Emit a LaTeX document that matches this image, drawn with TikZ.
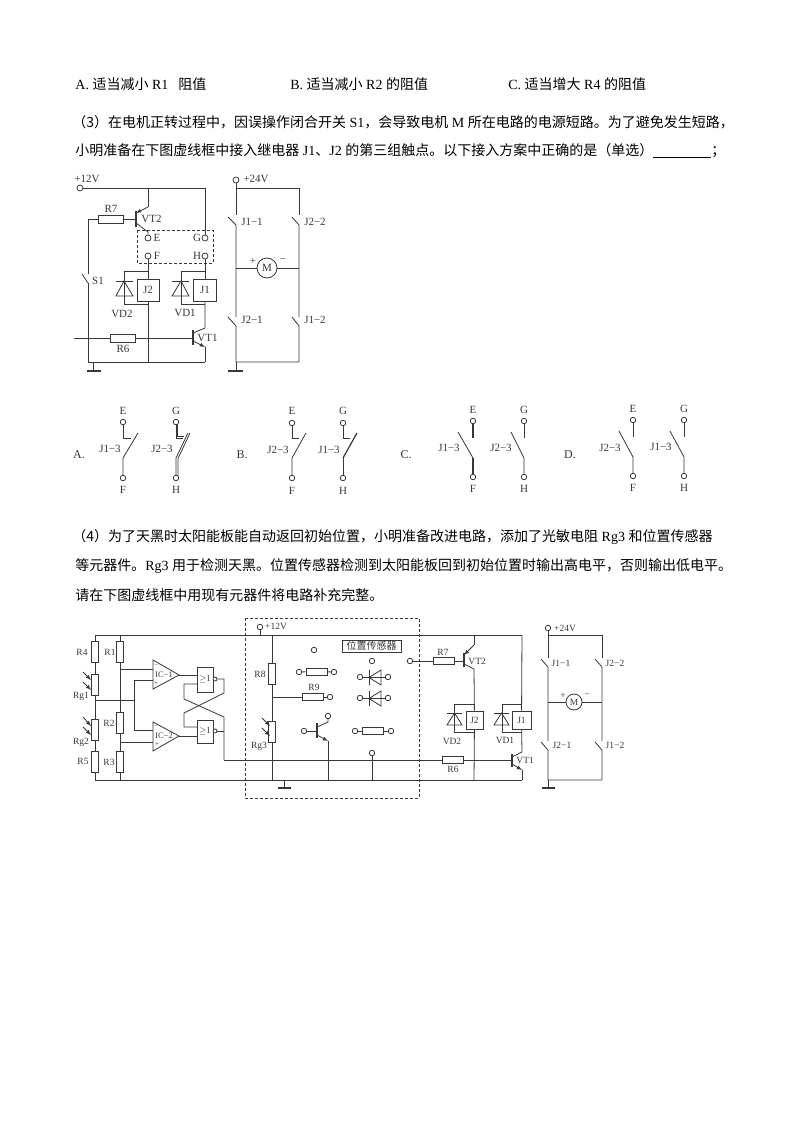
\documentclass[tikz,border=0pt]{standalone}
\usepackage{fontspec}
\setmainfont{Liberation Serif}
\newfontfamily\cjk{Noto Sans CJK SC}
\newcommand{\zh}[1]{{\cjk #1}}
\tikzset{
  txt/.style={anchor=west,inner sep=0pt,color=black,font=\fontsize{14}{14}\selectfont},
  lbl/.style={inner sep=0pt,font=\fontsize{11}{11}\selectfont},
  lbls/.style={inner sep=0pt,font=\fontsize{9.5}{10}\selectfont},
  lblo/.style={inner sep=0pt,font=\fontsize{12}{12}\selectfont},
  term/.style={circle,draw,fill=white,inner sep=0pt,minimum size=6pt},
  terms/.style={circle,draw,fill=white,inner sep=0pt,minimum size=5.5pt},
  rbox/.style={rectangle,draw,fill=white,inner sep=0pt},
  hres/.style={rbox,minimum width=21pt,minimum height=7pt},
  vres/.style={rbox,minimum width=7.5pt,minimum height=21pt},
  bar/.style={line width=1.2pt},
  dash box/.style={densely dashed,line width=.5pt},
}
\begin{document}
\begin{tikzpicture}[x=1pt,y=-1pt,line width=.8pt,color=black!78]
  \useasboundingbox (0,0) rectangle (800,1132);
  \fill[white] (0,0) rectangle (800,1132);
  % question text
  \node[txt] (optA) at (75,84) {A. \zh{适当减小} R1\hspace{10pt}\zh{阻值}};
  \node[txt] (optB) at (290,84) {B. \zh{适当减小} R2 \zh{的阻值}};
  \node[txt] (optC) at (508,84) {C. \zh{适当增大} R4 \zh{的阻值}};
  \node[txt] (lineA) at (72,122) {\zh{（3）在电机正转过程中，因误操作闭合开关} S1\zh{，会导致电机} M \zh{所在电路的电源短路。为了避免发生短路，}};
  \node[txt] (lineB) at (75,151) {\zh{小明准备在下图虚线框中接入继电器} J1\zh{、}J2 \zh{的第三组触点。以下接入方案中正确的是（单选）}\underline{\hspace{58pt}}\zh{；}};
  \node[txt] (lineC) at (72,537) {\zh{（4）为了天黑时太阳能板能自动返回初始位置，小明准备改进电路，添加了光敏电阻} Rg3 \zh{和位置传感器}};
  \node[txt] (lineD) at (75,566) {\zh{等元器件。}Rg3 \zh{用于检测天黑。位置传感器检测到太阳能板回到初始位置时输出高电平，否则输出低电平。}};
  \node[txt] (lineE) at (75,595) {\zh{请在下图虚线框中用现有元器件将电路补充完整。}};

  % first circuit, +12V side
  \node[term] (vcc) at (80,188) {};
  \node[lbl] (vccL) at (87,179) {+12V};
  \coordinate (topE) at (148,188);
  \coordinate (topG) at (205,188);
  \node[term] (termE) at (148,238) {};
  \node[term] (termF) at (148,256) {};
  \node[term] (termG) at (205,238) {};
  \node[term] (termH) at (205,256) {};
  \node[lbl] (labE) at (157,238) {E};
  \node[lbl] (labF) at (157,256) {F};
  \node[lbl] (labG) at (197,238) {G};
  \node[lbl] (labH) at (197,256) {H};
  \draw[dash box] (137,230) rectangle (213,263);
  \draw (vcc) -- (topG) -- (termG);
  \coordinate (vtEm) at (148,207);
  \coordinate (vtCo) at (148,232);
  \draw (topE) -- (vtEm);
  \draw[-latex] (vtEm) -- (136,213);
  \draw[bar] (136,211) -- (136,227);
  \draw (136,223) -- (vtCo) -- (termE);
  \node[rbox,minimum width=25pt,minimum height=8pt] (Rseven) at (110.5,219) {};
  \coordinate (vtBase) at (136,219);
  \coordinate (sTop) at (88,274);
  \coordinate (sBot) at (88,283);
  \coordinate (gndL) at (88,362);
  \coordinate (gndR) at (205,362);
  \draw (Rseven) -- (vtBase);
  \draw (Rseven) -| (sTop);
  \draw (sBot) -- (82,274);
  \draw (sBot) -- (gndL) -- (gndR);
  \node[lbl] (labRseven) at (111,209) {R7};
  \node[lbl,anchor=west] (labVTtwo) at (141,219) {VT2};
  \node[lbl] (labS) at (98,281) {S1};
  % relays
  \node[rbox,minimum width=22pt,minimum height=22pt,font=\fontsize{11}{11}\selectfont] (Jtwo) at (148,290) {J2};
  \node[rbox,minimum width=23pt,minimum height=22pt,font=\fontsize{11}{11}\selectfont] (Jone) at (205,290) {J1};
  \draw (termF) -- (Jtwo);
  \draw (termH) -- (Jone);
  \coordinate (jtwoT) at (148,271);
  \coordinate (jtwoB) at (148,304);
  \draw (jtwoT) -- (124,271) -- (124,304) -- (jtwoB);
  \draw (116,281) -- (133,281);
  \draw (124,281) -- (116,296) -- (133,296) -- cycle;
  \coordinate (joneT) at (205,271);
  \coordinate (joneB) at (205,304);
  \draw (joneT) -- (181,271) -- (181,304) -- (joneB);
  \draw (172,281) -- (189,281);
  \draw (181,281) -- (172,296) -- (189,296) -- cycle;
  \node[lbl] (labVDtwo) at (122,314) {VD2};
  \node[lbl] (labVDone) at (185,313) {VD1};
  % VT1 and R6
  \coordinate (vtoCo) at (205,328);
  \coordinate (vtoEm) at (205,347);
  \coordinate (gndJ) at (148,362);
  \draw (Jtwo) -- (gndJ);
  \draw (Jone) -- (vtoCo) -- (193,333);
  \draw[bar] (193,330) -- (193,345);
  \draw[-latex] (193,341) -- (vtoEm);
  \draw (vtoEm) -- (gndR);
  \coordinate (inL) at (74,338);
  \coordinate (vtoBase) at (193,338);
  \node[rbox,minimum width=25pt,minimum height=8pt] (Rsix) at (122.5,338) {};
  \draw (inL) -- (Rsix) -- (vtoBase);
  \node[lbl] (labRsix) at (123,349) {R6};
  \node[lbl,anchor=west] (labVTone) at (197,338) {VT1};
  \draw (93,362) -- (93,371);
  \draw[bar] (87,371) -- (101,371);

  % first circuit, +24V side
  \node[term] (vdd) at (236,180) {};
  \node[lbl] (vddL) at (256,179) {+24V};
  \coordinate (aTop) at (236,188);
  \coordinate (bTop) at (299,188);
  \draw (vdd) -- (236,215);
  \draw (aTop) -- (bTop) -- (299,215);
  \draw (228,217) -- (236,225) -- (236,317);
  \draw (292,217) -- (299,225) -- (299,317);
  \draw (228,317) -- (236,326) -- (236,362);
  \draw (292,317) -- (299,326) -- (299,362) -- (236,362);
  \draw (236,362) -- (236,371);
  \draw[bar] (228,371) -- (243,371);
  \node[circle,draw,inner sep=0pt,minimum size=20pt,font=\fontsize{11}{11}\selectfont] (motorA) at (267,268) {M};
  \draw (236,268) -- (motorA) -- (299,268);
  \node[lbl] (plusA) at (253,261) {+};
  \node[lbl] (minusA) at (283,261) {−};
  \node[lbl] (labAa) at (252,222) {J1−1};
  \node[lbl] (labAb) at (315,222) {J2−2};
  \node[lbl] (labAc) at (252,320) {J2−1};
  \node[lbl] (labAd) at (315,320) {J1−2};

  % option A
  \node[lblo] (capA) at (79,455) {A.};
  \node[terms] (aE) at (123,422) {};
  \node[terms] (aF) at (123,478) {};
  \node[terms] (aG) at (176,422) {};
  \node[terms] (aH) at (176,478) {};
  \node[lbl] (aEl) at (123,411) {E};
  \node[lbl] (aFl) at (123,490) {F};
  \node[lbl] (aGl) at (176,411) {G};
  \node[lbl] (aHl) at (176,490) {H};
  \node[lbl] (aJa) at (110,449) {J1−3};
  \node[lbl] (aJb) at (162,449) {J2−3};
  \draw (aE) |- (131,438);
  \draw (aF) -- (123,458) -- (138,433);
  \draw (aG) |- (183,438);
  \draw (aH) -- (176,458) -- (188,433);
  \draw (177.8,424) -- (177.8,436.5) -- (184,436.5);
  \draw (178,476) -- (178,458.5) -- (190,433);

  % option B
  \node[lblo] (capB) at (242,455) {B.};
  \node[terms] (bE) at (292,423) {};
  \node[terms] (bF) at (292,478) {};
  \node[terms] (bG) at (343,423) {};
  \node[terms] (bH) at (343,478) {};
  \node[lbl] (bEl) at (292,411) {E};
  \node[lbl] (bFl) at (292,491) {F};
  \node[lbl] (bGl) at (343,411) {G};
  \node[lbl] (bHl) at (343,491) {H};
  \node[lbl] (bJa) at (278,450) {J2−3};
  \node[lbl] (bJb) at (329,450) {J1−3};
  \draw (bE) |- (299,438);
  \draw (bF) -- (292,458) -- (306,433);
  \draw (bG) |- (350,438);
  \draw (bH) -- (343,458);
  \draw[line width=1.2pt] (343,458) -- (357,433);

  % option C
  \node[lblo] (capC) at (406,455) {C.};
  \node[terms] (cE) at (473,421) {};
  \node[terms] (cF) at (473,477) {};
  \node[terms] (cG) at (524,421) {};
  \node[terms] (cH) at (524,477) {};
  \node[lbl] (cEl) at (473,410) {E};
  \node[lbl] (cFl) at (473,489) {F};
  \node[lbl] (cGl) at (524,410) {G};
  \node[lbl] (cHl) at (524,489) {H};
  \node[lbl] (cJa) at (449,448) {J1−3};
  \node[lbl] (cJb) at (501,448) {J2−3};
  \draw[line width=1.2pt] (cE) -- (473,438);
  \draw[line width=1.2pt] (cF) -- (473,458);
  \draw (473,458) -- (458,432);
  \draw (cG) -- (524,438);
  \draw (cH) -- (524,458) -- (511,432);

  % option D
  \node[lblo] (capD) at (570,455) {D.};
  \node[terms] (dE) at (633,420) {};
  \node[terms] (dF) at (633,476) {};
  \node[terms] (dG) at (684,420) {};
  \node[terms] (dH) at (684,476) {};
  \node[lbl] (dEl) at (633,409) {E};
  \node[lbl] (dFl) at (633,488) {F};
  \node[lbl] (dGl) at (684,409) {G};
  \node[lbl] (dHl) at (684,488) {H};
  \node[lbl] (dJa) at (610,448) {J2−3};
  \node[lbl] (dJb) at (661,447) {J1−3};
  \draw (dE) -- (633,437);
  \draw (dF) -- (633,457) -- (619,431);
  \draw (dG) -- (684,437);
  \draw (dH) -- (684,457) -- (670,431);

  % second circuit, rails
  \draw (95,635) -- (522,635);
  \draw (95,780) -- (522,780);
  \draw (224,760) -- (442,760);
  \draw[dash box] (245,618) rectangle (419,798);

  % resistor ladders
  \node[vres] (Rfour) at (95,651.5) {};
  \node[vres] (Rgone) at (95,684.5) {};
  \node[vres] (Rgtwo) at (95,730) {};
  \node[vres] (Rfive) at (95,761.5) {};
  \node[vres] (Rone) at (120,651.5) {};
  \node[vres] (Rtwo) at (120,722.5) {};
  \node[vres] (Rthree) at (120,761.5) {};
  \coordinate (railA) at (95,635);
  \coordinate (railB) at (120,635);
  \coordinate (railC) at (95,780);
  \coordinate (railD) at (120,780);
  \draw (railA) -- (Rfour) -- (Rgone) -- (Rgtwo) -- (Rfive) -- (railC);
  \draw (railB) -- (Rone) -- (Rtwo) -- (Rthree) -- (railD);
  \node[lbls] (lRfour) at (82,652) {R4};
  \node[lbls] (lRone) at (110,652) {R1};
  \node[lbls] (lRgone) at (81,696) {Rg1};
  \node[lbls] (lRtwo) at (109,723) {R2};
  \node[lbls] (lRgtwo) at (81,742) {Rg2};
  \node[lbls] (lRfive) at (83,761) {R5};
  \node[lbls] (lRthree) at (109,762) {R3};
  \draw[-latex] (83,672) -- (91,680);
  \draw[-latex] (83,682) -- (91,690);
  \draw[-latex] (83,717) -- (91,726);
  \draw[-latex] (83,727) -- (91,735);

  % comparators
  \draw (153,660) -- (153,689) -- (179,675) -- cycle;
  \draw (153,722) -- (153,751) -- (179,736) -- cycle;
  \node[inner sep=0pt,font=\fontsize{8.5}{8.5}\selectfont,fill=white] (icA) at (164,675) {IC−1};
  \node[inner sep=0pt,font=\fontsize{8.5}{8.5}\selectfont,fill=white] (icB) at (164,736) {IC−2};
  \node[inner sep=0pt,font=\fontsize{7}{7}\selectfont] (icAm) at (156,666) {−};
  \node[inner sep=0pt,font=\fontsize{7}{7}\selectfont] (icAp) at (156,684) {+};
  \node[inner sep=0pt,font=\fontsize{7}{7}\selectfont] (icBm) at (156,727) {−};
  \node[inner sep=0pt,font=\fontsize{7}{7}\selectfont] (icBp) at (157,745) {+};
  \draw (95,700) -- (134,700);
  \draw (153,680) -- (134,680) -- (134,730) -- (153,730);
  \draw (120,669) -- (153,669);
  \draw (120,742) -- (153,742);

  % gates and cross coupling
  \node[rbox,minimum width=16pt,minimum height=25pt,font=\fontsize{9}{9}\selectfont] (gateA) at (205,679.5) {$\geq$1};
  \node[rbox,minimum width=16pt,minimum height=23pt,font=\fontsize{9}{9}\selectfont] (gateB) at (205,731.5) {$\geq$1};
  \node[circle,draw,fill=white,inner sep=0pt,minimum size=4pt] (notA) at (215,679) {};
  \node[circle,draw,fill=white,inner sep=0pt,minimum size=4pt] (notB) at (215,731) {};
  \draw (179,675) -- (197,675);
  \draw (179,736) -- (197,736);
  \draw (notA) -- (224,679) -- (224,693) -- (184,713) -- (184,727) -- (197,727);
  \draw (197,684) -- (184,684) -- (184,699) -- (224,717) -- (224,760);
  \draw (notB) -- (224,731);

  % contents of the dashed frame
  \node[terms] (vccB) at (260,627) {};
  \node[lbls] (vccBl) at (276,626) {+12V};
  \draw (vccB) -- (260,635);
  \node[vres] (Reight) at (272,674) {};
  \node[vres] (Rgthree) at (272,731.5) {};
  \coordinate (railE) at (272,635);
  \coordinate (railF) at (272,780);
  \draw (railE) -- (Reight) -- (Rgthree) -- (railF);
  \node[lbls] (lReight) at (260,674) {R8};
  \node[lbls] (lRgthree) at (259,746) {Rg3};
  \draw[-latex] (262,718) -- (270,726);
  \draw[-latex] (262,728) -- (270,736);
  \node[hres] (Rnine) at (312.5,697) {};
  \node[terms] (nineT) at (330,697) {};
  \coordinate (nineJ) at (272,697);
  \draw (nineJ) -- (Rnine) -- (nineT);
  \node[lbls] (lRnine) at (314,687) {R9};
  \node[terms] (freeA) at (314,650) {};
  \node[hres] (Rfree) at (316.5,671.5) {};
  \node[terms] (freeL) at (299,672) {};
  \node[terms] (freeR) at (334,672) {};
  \draw (freeL) -- (Rfree) -- (freeR);
  \node[rbox,minimum width=59pt,minimum height=12pt,font=\fontsize{10}{10}\selectfont\cjk] (sensor) at (371.5,646) {位置传感器};
  \node[terms] (sensorT) at (372,661) {};
  \node[terms] (toSeven) at (410,661) {};
  % two free diodes
  \node[terms] (dioAl) at (360,677) {};
  \node[terms] (dioAr) at (388,677) {};
  \node[terms] (dioBl) at (360,698) {};
  \node[terms] (dioBr) at (388,698) {};
  \draw (dioAl) -- (dioAr);
  \draw (dioBl) -- (dioBr);
  \draw (369,670) -- (369,685);
  \draw (369,677.5) -- (381,670) -- (381,685) -- cycle;
  \draw (369,691) -- (369,706);
  \draw (369,698.5) -- (381,691) -- (381,706) -- cycle;
  % free transistor
  \node[terms] (tranB) at (304,731) {};
  \node[terms] (tranC) at (328,716) {};
  \draw (tranB) -- (317,731);
  \draw[bar] (317,723) -- (317,738);
  \draw (317,727) -- (328,722) -- (tranC);
  \draw[-latex] (317,735) -- (328,741);
  \draw (328,741) -- (328,780);
  \node[hres] (Rlast) at (373,731) {};
  \node[terms] (lastL) at (355,731) {};
  \node[terms] (lastR) at (391,731) {};
  \draw (lastL) -- (Rlast) -- (lastR);
  \node[terms] (lowT) at (372,753) {};
  \draw (lowT) -- (372,780);
  \draw (284,780) -- (284,788);
  \draw[bar] (278,788) -- (291,788);

  % right part of the second circuit
  \node[hres] (Rsevenb) at (443.5,661) {};
  \coordinate (vtbBase) at (464,661);
  \draw (toSeven) -- (Rsevenb) -- (vtbBase);
  \draw[bar] (464,653) -- (464,667);
  \draw[-latex] (474,645) -- (464,655);
  \draw (474,635) -- (474,645);
  \draw (464,664) -- (474,669);
  \node[rbox,minimum width=17pt,minimum height=18pt,font=\fontsize{9.5}{9.5}\selectfont] (Jtwob) at (474.5,720) {J2};
  \node[rbox,minimum width=19pt,minimum height=18pt,font=\fontsize{9.5}{9.5}\selectfont] (Joneb) at (521.5,720) {J1};
  \draw (474,669) -- (Jtwob);
  \draw (522,635) -- (Joneb);
  \draw (Jtwob) -- (474,780);
  \draw (474,704) -- (454,704) -- (454,732) -- (474,732);
  \draw (447,713) -- (462,713);
  \draw (454.5,713) -- (447,725) -- (462,725) -- cycle;
  \draw (522,704) -- (502,704) -- (502,732) -- (522,732);
  \draw (494,713) -- (509,713);
  \draw (501.5,713) -- (494,725) -- (509,725) -- cycle;
  \node[lbls] (lRsevenb) at (443,652) {R7};
  \node[lbls,anchor=west] (lVTb) at (468,661) {VT2};
  \node[lbls] (lVDb) at (452,741) {VD2};
  \node[lbls] (lVDa) at (505,740) {VD1};
  \node[hres] (Rsixb) at (452.5,760) {};
  \coordinate (vtaBase) at (512,760);
  \draw (442,760) -- (Rsixb) -- (vtaBase);
  \draw[bar] (512,754) -- (512,767);
  \draw (Joneb) -- (522,752) -- (512,757);
  \draw[-latex] (512,764) -- (522,770);
  \draw (522,770) -- (522,780);
  \node[lbls] (lRsixb) at (453,769) {R6};
  \node[lbls,anchor=west] (lVTa) at (516,760) {VT1};

  % motor bridge
  \node[terms] (vddB) at (548,628) {};
  \node[lbls] (vddBl) at (565,628) {+24V};
  \draw (vddB) -- (548,658);
  \draw (548,635) -- (602,635) -- (602,658);
  \draw (541,659) -- (548,667) -- (548,741);
  \draw (595,659) -- (602,667) -- (602,741);
  \draw (541,742) -- (548,750) -- (548,780) -- (602,780) -- (602,750) -- (595,742);
  \draw (548,780) -- (548,788);
  \draw[bar] (542,788) -- (555,788);
  \node[circle,draw,inner sep=0pt,minimum size=16pt,font=\fontsize{9.5}{9.5}\selectfont] (motorB) at (574,702) {M};
  \draw (548,702) -- (motorB) -- (602,702);
  \node[lbls] (plusB) at (563,696) {+};
  \node[lbls] (minusB) at (587,696) {−};
  \node[lbls] (labBa) at (561,663) {J1−1};
  \node[lbls] (labBb) at (615,663) {J2−2};
  \node[lbls] (labBc) at (562,745) {J2−1};
  \node[lbls] (labBd) at (615,745) {J1−2};
\end{tikzpicture}
\end{document}
